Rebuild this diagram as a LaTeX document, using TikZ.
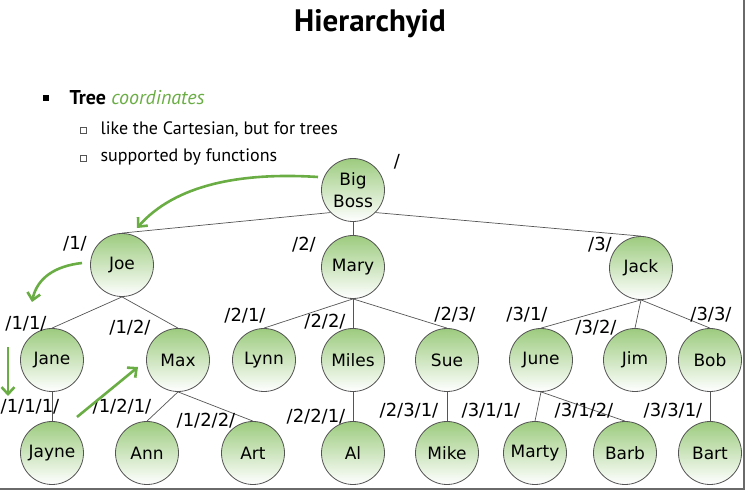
\documentclass[tikz,border=0pt]{standalone}
\usepackage{fontspec}
\setmainfont{PT Sans}
\newfontfamily\handfont{DejaVu Sans}
\usetikzlibrary{arrows.meta,backgrounds}
\definecolor{leafgreen}{HTML}{9CCB7E}
\definecolor{walkgreen}{HTML}{6AAD44}
\definecolor{rimgray}{HTML}{555555}
\definecolor{framegray}{HTML}{6A6A6A}
\tikzset{
  person/.style={circle, draw=rimgray, line width=0.8pt, minimum size=63pt, inner sep=0pt,
    top color=leafgreen, bottom color=white, align=center,
    font=\handfont\fontsize{17}{22}\selectfont},
  pathid/.style={font=\handfont\fontsize{18}{20}\selectfont, inner sep=0pt},
  link/.style={draw=rimgray, line width=0.7pt},
  walk/.style={-{Straight Barb[length=7pt,width=13pt,line width=2.6pt]}, line width=2.6pt, walkgreen}
}

\begin{document}
\begin{tikzpicture}[x=1pt, y=-1pt]
  \useasboundingbox (0,0) rectangle (748,494);
  % ---- frame shadow ----
  \draw[framegray, line width=2.5pt] (744,0) -- (744,489) -- (0,489);
  % ---- title and bullets ----
  \node[font=\bfseries\fontsize{31}{34}\selectfont] (title) at (370,24) {Hierarchyid};
  \node[fill=black, minimum size=6pt, inner sep=0pt] (b0) at (46,98) {};
  \node[anchor=west, font=\fontsize{20}{24}\selectfont] (tree) at (66,98)
    {\textbf{Tree} \textcolor{walkgreen}{\itshape coordinates}};
  \node[draw=rimgray, line width=0.6pt, minimum size=6pt, inner sep=0pt] (b1) at (83,130) {};
  \node[anchor=west, font=\fontsize{18}{22}\selectfont] (like) at (97,129) {like the Cartesian, but for trees};
  \node[draw=rimgray, line width=0.6pt, minimum size=6pt, inner sep=0pt] (b2) at (83,158) {};
  \node[anchor=west, font=\fontsize{18}{22}\selectfont] (supp) at (97,157) {supported by functions};
  % ---- level 0 and 1 ----
  \node[person] (boss) at (353,190) {Big\\Boss};
  \node[person] (joe) at (122,265) {Joe};
  \node[person] (mary) at (353,267) {Mary};
  \node[person] (jack) at (641,268) {Jack};
  % ---- level 2 ----
  \foreach \nm/\x/\txt in {jane/52/Jane, max/178/Max, lynn/264/Lynn, miles/353/Miles,
      sue/447/Sue, june/541/June, jim/635/Jim, bob/710/Bob}
    \node[person] (\nm) at (\x,360) {\txt};
  % ---- level 3 ----
  \foreach \nm/\x/\txt in {jayne/52/Jayne, ann/147/Ann, art/253/Art, al/353/Al,
      mike/447/Mike, marty/535/Marty, barb/625/Barb, bart/710/Bart}
    \node[person] (\nm) at (\x,453) {\txt};
  % ---- tree edges ----
  \begin{scope}[on background layer]
    \draw[link] (boss.south west) -- (joe.north);
    \draw[link] (boss.south) -- (mary.north);
    \draw[link] (boss.south east) -- (jack.north);
    \foreach \p/\c in {joe/jane, joe/max, mary/lynn, mary/miles, mary/sue, jack/june, jack/jim, jack/bob,
        jane/jayne, max/ann, max/art, miles/al, sue/mike, june/marty, june/barb, bob/bart}
      \draw[link] (\p.south) -- (\c.north);
  \end{scope}
  % ---- path ids ----
  \node[pathid] (p0) at (397,162) {/};
  \node[pathid] (p1) at (75,244) {/1/};
  \node[pathid] (p2) at (304,245) {/2/};
  \node[pathid] (p3) at (600,245) {/3/};
  \foreach \nm/\x/\y/\txt in {p11/26/324/{/1/1/}, p12/130/328/{/1/2/}, p21/245/316/{/2/1/},
      p22/325/322/{/2/2/}, p23/455/315/{/2/3/}, p31/527/315/{/3/1/}, p32/596/328/{/3/2/},
      p33/711/315/{/3/3/}}
    \node[pathid] (\nm) at (\x,\y) {\txt};
  \foreach \nm/\x/\y/\txt in {p111/30/407/{/1/1/1/}, p121/122/407/{/1/2/1/}, p122/206/421/{/1/2/2/},
      p221/316/417/{/2/2/1/}, p231/409/411/{/2/3/1/}, p311/491/411/{/3/1/1/}, p312/584/411/{/3/1/2/},
      p331/673/411/{/3/3/1/}}
    \node[pathid] (\nm) at (\x,\y) {\txt};
  % ---- depth-first walk ----
  \coordinate (w0) at (318,177);
  \coordinate (w1) at (137,228);
  \coordinate (w2) at (82,263);
  \coordinate (w3) at (32,302);
  \coordinate (w4) at (8,347);
  \coordinate (w5) at (8,396);
  \coordinate (w6) at (77,417);
  \coordinate (w7) at (138,367);
  \draw[walk] (w0) .. controls (240,172) and (175,185) .. (w1);
  \draw[walk] (w2) .. controls (55,266) and (37,278) .. (w3);
  \draw[walk] (w4) -- (w5);
  \draw[walk] (w6) -- (w7);
\end{tikzpicture}
\end{document}
